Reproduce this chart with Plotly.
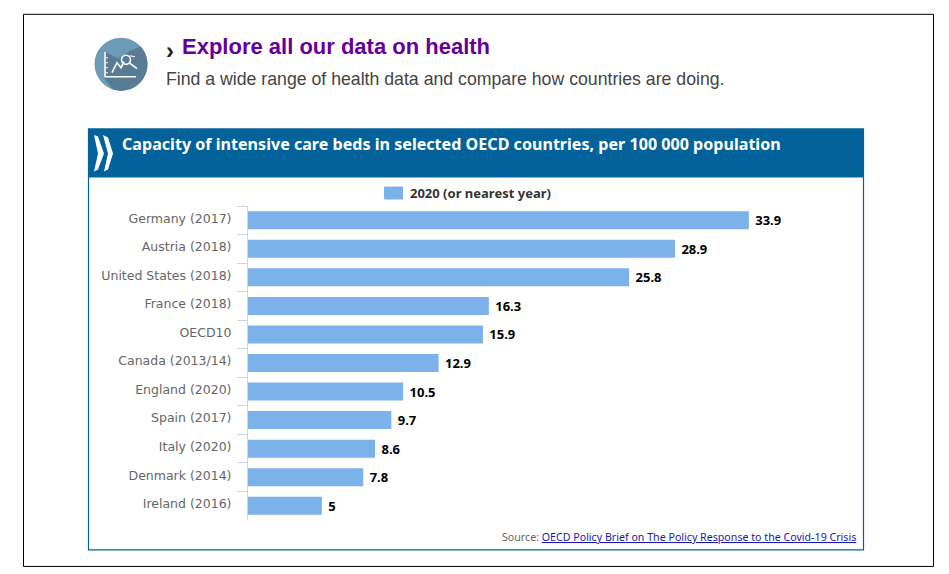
import math
import plotly.graph_objects as go

categories = ["Germany (2017)", "Austria (2018)", "United States (2018)", "France (2018)", "OECD10",
              "Canada (2013/14)", "England (2020)", "Spain (2017)", "Italy (2020)", "Denmark (2014)", "Ireland (2016)"]
values = [33.9, 28.9, 25.8, 16.3, 15.9, 12.9, 10.5, 9.7, 8.6, 7.8, 5]
value_labels = ["33.9", "28.9", "25.8", "16.3", "15.9", "12.9", "10.5", "9.7", "8.6", "7.8", "5"]
series_name = "2020 (or nearest year)"

L, R, T, B = 248, 839, 205.5, 520
W, H = 949, 574
def px(x): return (x - L) / (R - L)
def py(y): return (B - y) / (B - T)
def rect(x0, y0, x1, y1, **kw):
    return dict(type="rect", xref="paper", yref="paper", x0=px(x0), x1=px(x1), y0=py(y0), y1=py(y1), **kw)
def path(points, close=False, **kw):
    d = "M" + " L".join(f"{px(a):.5f},{py(b):.5f}" for a, b in points) + (" Z" if close else "")
    return dict(type="path", xref="paper", yref="paper", path=d, **kw)
def circle(cx, cy, r, **kw):
    return dict(type="circle", xref="paper", yref="paper", x0=px(cx-r), x1=px(cx+r), y0=py(cy+r), y1=py(cy-r), **kw)
def note(x, y, text, size, color, family, xanchor="left"):
    return dict(xref="paper", yref="paper", x=px(x), y=py(y), text=text, showarrow=False, xanchor=xanchor,
                yanchor="middle", align="left", font=dict(size=size, color=color, family=family))

blue = "#04629b"
bar_color = "#7cb2ea"
white_line = dict(color="white", width=1.6)
thin_white = dict(color="white", width=1)
cx, cy, r = 121, 63.5, 26.5
arc = [(cx + r * math.cos(math.radians(a)), cy + r * math.sin(math.radians(a))) for a in range(-42, 112, 6)]
shapes = [
    rect(23.5, 13.5, 933.5, 566.5, line=dict(color="black", width=1), fillcolor="white", layer="below"),
    rect(88.5, 128.5, 863.5, 550, line=dict(color=blue, width=1.2), fillcolor="white", layer="below"),
    rect(88, 128, 864, 177, line=dict(width=0), fillcolor=blue, layer="below"),
    path([(94, 134.5), (98, 136), (104, 153), (98, 169), (94, 171), (98, 153)], True, line=dict(width=0), fillcolor="white"),
    path([(103, 134.5), (108, 137), (113, 153), (108, 169), (104, 171), (108, 153)], True, line=dict(width=0), fillcolor="white"),
    circle(cx, cy, r, line=dict(width=0), fillcolor="#6d9cb8"),
    path(arc + [(104, 77), (104, 50), (118, 58), (130, 50)], True, line=dict(width=0), fillcolor="#587c94"),
    path([(105, 51), (105, 76), (136, 76)], line=white_line),
    path([(112, 72), (117, 62), (121, 67), (124, 61)], line=white_line),
    circle(126, 59, 4.5, line=white_line),
    path([(129, 62), (137, 68)], line=white_line),
    path([(105, 57), (108, 57)], line=thin_white),
    path([(105, 62), (108, 62)], line=thin_white),
    path([(105, 67), (108, 67)], line=thin_white),
    path([(105, 72), (108, 72)], line=thin_white),
    path([(130, 55), (135, 56)], line=thin_white),
    rect(384.5, 186, 403, 199, line=dict(width=0), fillcolor=bar_color, layer="above"),
]
annotations = [
    note(164, 50, "<b>›</b>", 24, "#222222", "Liberation Sans"),
    note(179.5, 45.5, "<b>Explore all our data on health</b>", 22, "#660099", "Liberation Sans"),
    note(164, 78.5, "Find a wide range of health data and compare how countries are doing.", 17.7, "#444444", "Liberation Sans"),
    note(120, 143.5, "<b>Capacity of intensive care beds in selected OECD countries, per 100 000 population</b>", 16.1, "white", "Noto Sans"),
    note(500, 537, "<span style='color:#666666'>Source: </span><a href='https://www.oecd.org' style='color:#1a1aa6'><u>OECD Policy Brief on The Policy Response to the Covid-19 Crisis</u></a>", 10.65, "#1a1aa6", "Noto Sans"),
]

fig = go.Figure(go.Bar(
    y=categories, x=values, orientation="h", name=series_name,
    marker=dict(color=bar_color, line=dict(width=0)),
    text=value_labels, texttemplate="\u00a0%{text}", textposition="outside", cliponaxis=False,
    textfont=dict(size=13, color="black", family="Noto Sans", weight="bold"),
    showlegend=True,
))
fig.update_layout(
    width=W, height=H, margin=dict(l=L, r=W-R, t=T, b=H-B),
    paper_bgcolor="white", plot_bgcolor="white", bargap=0.37,
    shapes=shapes, annotations=annotations,
    legend=dict(xref="paper", yref="paper", x=px(370), y=py(192.5), xanchor="left", yanchor="middle", orientation="h",
                font=dict(size=13, color="#333333", family="Noto Sans", weight="bold"), bgcolor="rgba(0,0,0,0)"),
    xaxis=dict(range=[0, 40], visible=False, fixedrange=True),
    yaxis=dict(autorange="reversed", tickson="boundaries", ticks="outside", ticklen=10, tickcolor="#ccd6eb", tickwidth=1,
               showline=True, linecolor="#ccd6eb", linewidth=1, showgrid=False, ticklabelstandoff=13, ticklabelshift=2,
               tickfont=dict(size=12.5, color="#666666", family="DejaVu Sans"), fixedrange=True),
)
fig.write_html("out.html", config=dict(displayModeBar=False),
               post_script="document.body.style.margin='0';")
